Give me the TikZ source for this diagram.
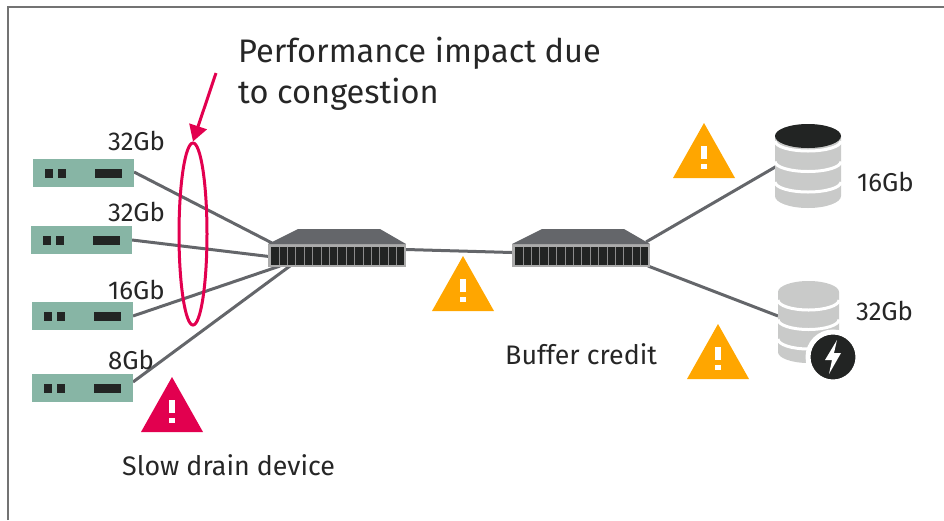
\documentclass[tikz,border=0pt]{standalone}
\usepackage{fontspec}
\setmainfont{Fira Sans}
\usetikzlibrary{calc,arrows.meta,backgrounds,shapes.geometric}
\definecolor{lnk}{HTML}{64666A}
\definecolor{srv}{HTML}{87B5A5}
\definecolor{dk}{HTML}{222423}
\definecolor{dbg}{HTML}{C9CAC9}
\definecolor{org}{HTML}{FFA600}
\definecolor{rd}{HTML}{E2004F}
\tikzset{
 server/.style={fill=srv,minimum width=101pt,minimum height=28pt,inner sep=0pt,outer sep=0pt},
 swbody/.style={fill=black!33,minimum width=138pt,minimum height=23pt,inner sep=0pt,outer sep=0pt},
 lnkline/.style={draw=lnk,line width=3pt},
 lbl/.style={font=\fontsize{25.8}{26}\selectfont,text=black!85,inner sep=0pt,anchor=base west},
 lblw/.style={font=\fontsize{26.8}{27}\selectfont,text=black!85,inner sep=0pt,anchor=base west},
 bigl/.style={font=\fontsize{32.6}{44}\selectfont,text=black!85,inner sep=0pt,anchor=base west},
}
\newcommand{\srvmarks}[1]{
 \fill[dk] ($(#1.north west)+(12,10)$) rectangle +(8,9);
 \fill[dk] ($(#1.north west)+(25,10)$) rectangle +(8,9);
 \fill[dk] ($(#1.north west)+(62,10)$) rectangle +(27,9);
}
\newcommand{\swmarks}[1]{
 \fill[lnk] ($(#1.north west)$) -- ($(#1.north west)+(30,-15)$) -- ($(#1.north east)+(-26,-15)$) -- (#1.north east) -- cycle;
 \fill[dk] ($(#1.north west)+(2.5,2.5)$) rectangle ($(#1.south east)+(-2.5,-2.5)$);
 \foreach \i in {1,...,15}{
  \draw[black!45,line width=.7pt] ($(#1.north west)+(2.5+\i*8.4,2.5)$) -- ($(#1.south west)+(2.5+\i*8.4,-2.5)$);
 }
}
\newcommand{\warn}[3]{
 \fill[#3] (#1,#2) -- (#1+31,#2+55) -- (#1-31,#2+55) -- cycle;
 \fill[white] (#1-3,#2+23) rectangle (#1+3,#2+36);
 \fill[white] (#1-3,#2+41) rectangle (#1+3,#2+46);
}
% left, width, top, ry, step, top colour, offset of first band
\newcommand{\dbstack}[7]{
 \fill[dbg] (#1,#3+#4) -- (#1,#3+#4+60) arc[start angle=180,end angle=360,x radius=#2/2,y radius=-#4] -- (#1+#2,#3+#4) -- cycle;
 \foreach \k in {0,1,2}{
  \draw[white,line width=3pt] (#1,#3+#4+\k*#5+#7) arc[start angle=180,end angle=360,x radius=#2/2,y radius=-10];
 }
 \fill[#6] (#1+#2/2,#3+#4) ellipse[x radius=#2/2,y radius=#4];
}
\begin{document}
\begin{tikzpicture}[x=1pt,y=-1pt]
\useasboundingbox (0,0) rectangle (944,520);
\draw[black!55,line width=2pt] (7.5,520) -- (7.5,7) -- (944,7);

\node[server] (s1) at (83.5,173) {};
\node[server] (s2) at (81.5,240) {};
\node[server] (s3) at (82.5,316) {};
\node[server] (s4) at (82.5,388) {};
\srvmarks{s1}\srvmarks{s2}\srvmarks{s3}\srvmarks{s4}

\node[swbody] (sw1) at (337,255.5) {};
\node[swbody] (sw2) at (581,255.5) {};
\swmarks{sw1}\swmarks{sw2}

\dbstack{775}{66}{124}{12}{20.5}{dk}{5}
\dbstack{778}{61}{281}{11}{19.5}{dbg}{8}
\coordinate (db1) at (777,166);
\coordinate (db2) at (778,316);
\node[circle,fill=dk,draw=white,line width=5pt,minimum size=50pt,inner sep=0pt] (bolt) at (833,357) {};
\fill[white] ($(bolt.center)+(4,-17)$) -- ($(bolt.center)+(-8,3)$) -- ($(bolt.center)+(-1,3)$) -- ($(bolt.center)+(-4,17)$) -- ($(bolt.center)+(8,-4)$) -- ($(bolt.center)+(1,-4)$) -- cycle;

\begin{scope}[on background layer]
 \draw[lnkline] (s1.east |- 0,172) -- ($(sw1.north west)+(4,-1)$);
 \draw[lnkline] (s2.east) -- ($(sw1.west)+(1,1)$);
 \draw[lnkline] (s3.east) -- ($(sw1.south west)+(12,-1)$);
 \draw[lnkline] (s4.east |- 0,382) -- ($(sw1.south west)+(22,-1)$);
 \draw[lnkline] ($(sw1.east)+(0,-6)$) -- ($(sw2.west)+(0,-3)$);
 \draw[lnkline] ($(sw2.north east)+(-4,-2)$) -- (db1);
 \draw[lnkline] ($(sw2.south east)+(-2,-1)$) -- (db2);
\end{scope}

\warn{172}{377}{rd}
\warn{463}{256}{org}
\warn{704}{123}{org}
\warn{718}{324}{org}

\node[draw=rd,line width=3pt,minimum width=28pt,minimum height=182pt,ellipse,inner sep=0pt] (cong) at (193,234) {};
\coordinate (cfrom) at (216,73);
\draw[rd,line width=3pt,-{Triangle[length=16pt,width=18pt]}] (cfrom) -- (cong.north);

\node[lbl] (a) at (108,150) {32Gb};
\node[lbl] (b) at (108,221) {32Gb};
\node[lbl] (c) at (108,299) {16Gb};
\node[lbl] (d) at (108,369) {8Gb};
\node[lbl] (e) at (857,191) {16Gb};
\node[lbl] (f) at (856,320) {32Gb};
\node[lblw] (g) at (505,364) {Buffer credit};
\node[lblw] (h) at (122,475) {Slow drain device};
\node[bigl] (t1) at (238,62) {Performance impact due};
\node[bigl] (t2) at (238,103) {to congestion};
\end{tikzpicture}
\end{document}
